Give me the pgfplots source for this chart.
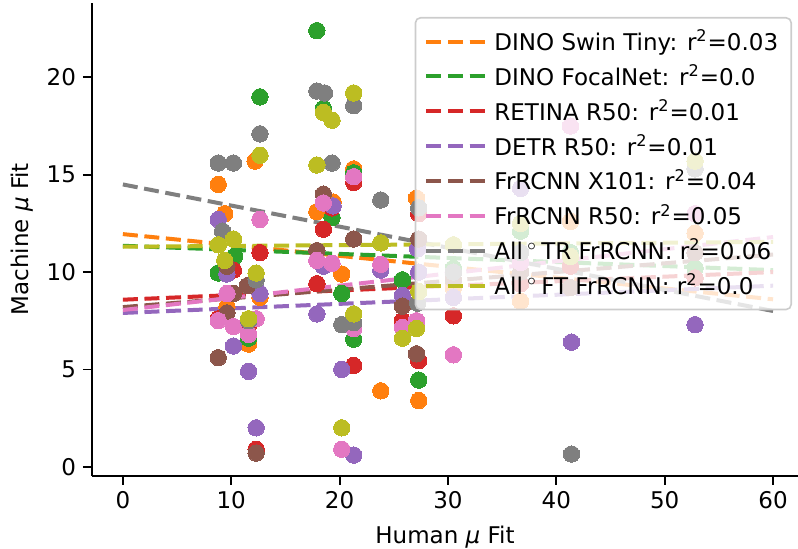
\documentclass[border=0pt]{standalone}
\usepackage{fontspec}
\setmainfont{DejaVu Sans}
\usepackage{pgfplots}
\pgfplotsset{compat=1.18}
\definecolor{cOr}{HTML}{FF7F0E}
\definecolor{cGr}{HTML}{2CA02C}
\definecolor{cRe}{HTML}{D62728}
\definecolor{cPu}{HTML}{9467BD}
\definecolor{cBr}{HTML}{8C564B}
\definecolor{cPi}{HTML}{E377C2}
\definecolor{cGy}{HTML}{7F7F7F}
\definecolor{cOl}{HTML}{BCBD22}
\newcommand{\fs}{\fontsize{11.5}{13.5}\selectfont}
\newcommand{\dg}{\hspace{2.2pt}$^\circ$\hspace{2.2pt}}
\begin{document}
\begin{tikzpicture}
\useasboundingbox (-46pt,-36.25pt) rectangle (353pt,237.75pt);
\begin{axis}[
  at={(0,0)}, anchor=south west,
  scale only axis, width=353pt, height=236.25pt,
  xmin=-2.85, xmax=62.3, ymin=-0.45, ymax=23.82,
  axis x line*=bottom, axis y line*=left,
  axis line style={line width=1pt, -},
  xtick={0,10,...,60}, ytick={0,5,...,20},
  tick align=outside, major tick length=4.5pt,
  tick style={line width=0.9pt, black},
  /pgf/number format/assume math mode=true,
  tick label style={font=\fs},
  label style={font=\fs},
  xlabel={Human \textit{μ} Fit}, ylabel={Machine \textit{μ} Fit},
  xlabel style={at={(axis description cs:0.5,-0.130)}, anchor=center},
  ylabel style={at={(axis description cs:-0.0992,0.5)}, anchor=center},
  legend style={at={(rel axis cs:0.9915,0.9704)}, anchor=north east,
    draw=black!20, line width=0.8pt, rounded corners=2.5pt,
    fill=white, fill opacity=0.8, text opacity=1, font=\fs,
    row sep=1.6pt, inner xsep=4.5pt, inner ysep=4pt, cells={anchor=west}},
  legend image code/.code={\draw[#1] (0pt,0pt) -- (23.5pt,0pt); \path (0pt,0pt) -- (31pt,0pt);},
  mk/.style={only marks, mark=*, mark size=4.1pt, forget plot, mark options={line width=0pt}},
]
% scatter points
\addplot[cOr, mk] coordinates {
(8.8,14.5) (9.4,13.0) (9.6,8.2) (11.6,6.3) (12.2,15.7) (12.65,8.7) (17.9,13.1) (19.4,13.6) (20.2,9.9) (21.3,15.3) (23.8,3.9) (27.1,13.8) (27.3,3.4) (30.5,9.2) (36.7,8.5) (41.3,12.6) (52.8,12.0)};
\addplot[cGr, mk] coordinates {
(8.8,9.95) (10.3,10.8) (11.6,6.6) (12.65,19.0) (17.9,22.4) (18.5,18.4) (19.3,12.8) (20.2,8.9) (21.3,15.1) (21.3,6.55) (25.8,9.6) (27.3,4.45) (30.5,10.2) (36.7,12.1) (41.3,11.0) (52.8,10.2)};
\addplot[cRe, mk] coordinates {
(8.8,7.6) (10.2,10.1) (12.65,11.0) (12.3,0.9) (11.6,7.3) (17.9,9.4) (18.5,12.2) (19.3,13.3) (21.3,14.6) (21.3,5.2) (25.8,7.5) (27.3,5.45) (27.3,13.0) (30.5,7.75) (36.7,9.4) (41.3,10.3) (52.8,9.7)};
\addplot[cPu, mk] coordinates {
(8.8,12.7) (9.6,9.9) (10.2,6.2) (11.6,4.9) (12.3,2.0) (12.65,8.9) (17.9,7.85) (18.5,10.3) (19.4,13.4) (20.2,5.0) (21.3,0.6) (23.8,10.1) (25.8,8.8) (27.3,10.0) (27.2,11.2) (30.5,8.7) (36.7,14.3) (41.4,6.4) (52.8,7.3)};
\addplot[cBr, mk] coordinates {
(8.8,5.6) (9.6,10.3) (9.6,7.9) (10.2,8.9) (11.5,9.3) (12.3,0.7) (17.9,11.1) (18.5,14.0) (21.3,11.7) (25.8,8.25) (27.1,5.8) (27.3,11.7) (30.5,9.6) (36.7,10.0) (41.3,9.2) (52.8,11.0)};
\addplot[cPi, mk] coordinates {
(8.8,7.5) (9.6,8.9) (10.2,7.2) (11.6,6.8) (12.3,7.6) (12.65,12.7) (17.9,10.6) (18.5,13.55) (19.3,10.45) (20.2,0.9) (21.3,14.9) (21.3,7.1) (23.8,10.4) (25.8,7.15) (27.1,7.5) (30.5,5.75) (36.7,10.5) (41.3,17.5) (52.8,13.0)};
\addplot[cGy, mk] coordinates {
(8.8,15.6) (9.2,12.1) (10.2,15.6) (11.6,7.5) (12.3,9.6) (12.65,17.1) (17.9,19.3) (18.6,19.2) (19.3,15.6) (20.2,7.3) (21.3,18.55) (21.3,7.4) (23.8,13.7) (27.3,13.3) (27.2,8.4) (30.5,10.0) (36.7,11.0) (41.4,0.65) (52.8,15.3)};
\addplot[cOl, mk] coordinates {
(8.8,11.4) (9.4,10.6) (10.2,11.7) (11.6,7.6) (12.3,9.95) (12.65,16.0) (17.9,15.5) (18.5,18.2) (19.3,17.8) (20.2,2.0) (21.3,19.2) (21.3,7.85) (23.8,11.5) (25.8,6.6) (27.1,7.1) (27.3,9.0) (30.5,11.4) (36.7,12.5) (41.3,10.8) (52.8,15.7)};
% regression lines
\addplot[cOr, line width=2pt, dash pattern=on 7.5pt off 3.3pt] coordinates {(0,11.95) (60,8.6)};
\addlegendentry{DINO Swin Tiny: r\textsuperscript{2}=0.03}
\addplot[cGr, line width=2pt, dash pattern=on 7.5pt off 3.3pt] coordinates {(0,11.35) (60,10.1)};
\addlegendentry{DINO FocalNet: r\textsuperscript{2}=0.0}
\addplot[cRe, line width=2pt, dash pattern=on 7.5pt off 3.3pt] coordinates {(0,8.58) (60,10.0)};
\addlegendentry{RETINA R50: r\textsuperscript{2}=0.01}
\addplot[cPu, line width=2pt, dash pattern=on 7.5pt off 3.3pt] coordinates {(0,7.9) (60,9.3)};
\addlegendentry{DETR R50: r\textsuperscript{2}=0.01}
\addplot[cBr, line width=2pt, dash pattern=on 7.5pt off 3.3pt] coordinates {(0,8.2) (60,10.9)};
\addlegendentry{FrRCNN X101: r\textsuperscript{2}=0.04}
\addplot[cPi, line width=2pt, dash pattern=on 7.5pt off 3.3pt] coordinates {(0,8.05) (60,11.8)};
\addlegendentry{FrRCNN R50: r\textsuperscript{2}=0.05}
\addplot[cGy, line width=2pt, dash pattern=on 7.5pt off 3.3pt] coordinates {(0,14.5) (60,8.0)};
\addlegendentry{All\dg TR FrRCNN: r\textsuperscript{2}=0.06}
\addplot[cOl, line width=2pt, dash pattern=on 7.5pt off 3.3pt] coordinates {(0,11.3) (60,11.55)};
\addlegendentry{All\dg FT FrRCNN: r\textsuperscript{2}=0.0}
\end{axis}
\end{tikzpicture}
\end{document}
